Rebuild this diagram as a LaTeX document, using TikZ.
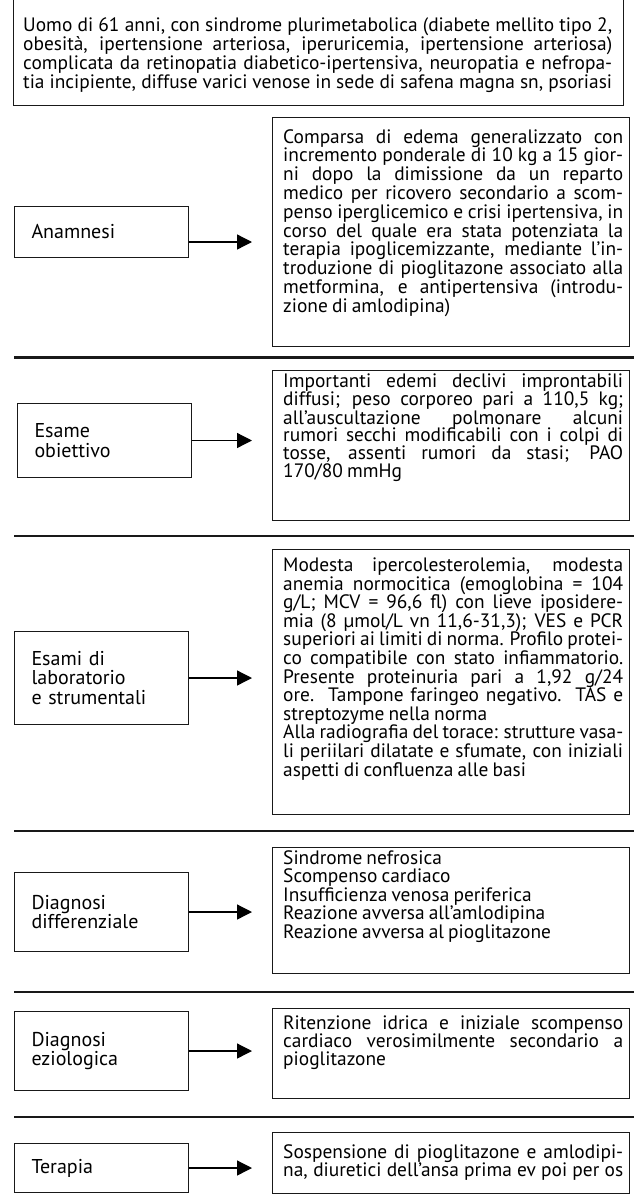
\documentclass[tikz,border=0pt]{standalone}
\usepackage{fontspec}
\setmainfont[WordSpace=0.8]{PT Sans}
\usepackage{graphicx}
\usetikzlibrary{arrows.meta}
\newcommand\Jw[2]{\sbox0{#2}\ifdim\wd0>#1\relax\resizebox{#1}{\height}{#2}\else\makebox[#1][s]{#2}\fi}
\newcommand\Lw[2]{\sbox0{#2}\ifdim\wd0>#1\relax\resizebox{#1}{\height}{#2}\else\makebox[#1][l]{#2}\fi}
\newcommand\J[1]{\Jw{340pt}{#1}}
\newcommand\Lr[1]{\Lw{340pt}{#1}}
\newcommand\JT[1]{\Jw{589pt}{#1}}
\newcommand\rtext[2]{\parbox[t]{340pt}{\fontsize{19.4}{#1}\selectfont #2}}
\begin{document}
\begin{tikzpicture}[x=1pt,y=-1pt,
  bx/.style={draw=black!90, line width=1pt, inner sep=0pt},
  lbox/.style={bx, anchor=north west, minimum width=174pt, text width=140pt, inner xsep=17pt, align=left, font=\fontsize{20}{19.8}\selectfont},
  rbox/.style={bx, anchor=north west, minimum width=357pt},
  txt/.style={anchor=base west, inner sep=0pt},
  sep/.style={line width=2.3pt, draw=black!90},
  arr/.style={line width=1.3pt, -{Triangle[length=15pt,width=15pt]}, shorten >=20pt}]
\useasboundingbox (0,0) rectangle (636,1194);
% top box
\node[rbox, minimum width=610pt, minimum height=108pt] (top) at (13,-3) {};
\node[txt] (toptext) at (23,31) {\parbox[t]{589pt}{\fontsize{19.4}{19.3}\selectfont
\JT{Uomo di 61 anni, con sindrome plurimetabolica (diabete mellito tipo 2,}\\
\JT{obesità, ipertensione arteriosa, iperuricemia, ipertensione arteriosa)}\\
\JT{complicata da retinopatia diabetico-ipertensiva, neuropatia e nefropa-}\\
\JT{tia incipiente, diffuse varici venose in sede di safena magna sn, psoriasi}}};
% separators
\coordinate (s1l) at (14,357.5); \coordinate (s1r) at (634,357.5);
\coordinate (s2l) at (14,536);   \coordinate (s2r) at (634,536);
\coordinate (s3l) at (14,831);   \coordinate (s3r) at (634,831);
\coordinate (s4l) at (14,992);   \coordinate (s4r) at (634,992);
\coordinate (s5l) at (14,1117);  \coordinate (s5r) at (634,1117);
\foreach \i in {1,...,5} \draw[sep] (s\i l) -- (s\i r);
% 1 Anamnesi
\node[lbox, minimum height=51pt] (l1) at (14,206) {Anamnesi};
\node[rbox, minimum height=229pt] (r1) at (272,117) {};
\node[txt] (t1) at (283,143) {\rtext{18.8}{%
\J{Comparsa di edema generalizzato con}\\
\J{incremento ponderale di 10 kg a 15 gior-}\\
\J{ni dopo la dimissione da un reparto}\\
\J{medico per ricovero secondario a scom-}\\
\J{penso iperglicemico e crisi ipertensiva, in}\\
\J{corso del quale era stata potenziata la}\\
\J{terapia ipoglicemizzante, mediante l’in-}\\
\J{troduzione di pioglitazone associato alla}\\
\J{metformina, e antipertensiva (introdu-}\\
\Lr{zione di amlodipina)}}};
\coordinate (a1) at (0,242);
\draw[arr] (l1.east |- a1) -- (r1.west |- a1);
% 2 Esame obiettivo
\node[lbox, minimum height=74pt] (l2) at (17,403) {Esame\\obiettivo};
\node[rbox, minimum height=150pt] (r2) at (272,370) {};
\node[txt] (t2) at (283,387.5) {\rtext{17.8}{%
\J{Importanti edemi declivi improntabili}\\
\J{diffusi; peso corporeo pari a 110,5 kg;}\\
\J{all’auscultazione polmonare alcuni}\\
\J{rumori secchi modificabili con i colpi di}\\
\J{tosse, assenti rumori da stasi; PAO}\\
\Lr{170/80 mmHg}}};
\draw[arr] (l2.east) -- (l2.east -| r2.west);
% 3 Esami di laboratorio
\node[lbox, minimum height=93pt] (l3) at (14,631) {Esami di\\laboratorio\\e strumentali};
\node[rbox, minimum height=265pt] (r3) at (272,549) {};
\node[txt] (t3) at (283,571.5) {\rtext{18.6}{%
\J{Modesta ipercolesterolemia, modesta}\\
\J{anemia normocitica (emoglobina = 104}\\
\J{g/L; MCV = 96,6 fl) con lieve iposidere-}\\
\J{mia (8 µmol/L vn 11,6-31,3); VES e PCR}\\
\J{superiori ai limiti di norma. Profilo protei-}\\
\J{co compatibile con stato infiammatorio.}\\
\J{Presente proteinuria pari a 1,92 g/24}\\
\J{ore. Tampone faringeo negativo. TAS e}\\
\Lr{streptozyme nella norma}\\
\J{Alla radiografia del torace: strutture vasa-}\\
\J{li periilari dilatate e sfumate, con iniziali}\\
\Lr{aspetti di confluenza alle basi}}};
\draw[arr] (l3.east) -- (l3.east -| r3.west);
% 4 Diagnosi differenziale
\node[lbox, minimum height=79pt] (l4) at (14,872) {Diagnosi\\differenziale};
\node[rbox, minimum height=126pt] (r4) at (272,847) {};
\node[txt] (t4) at (283,864.5) {\rtext{18.4}{%
\Lr{Sindrome nefrosica}\\
\Lr{Scompenso cardiaco}\\
\Lr{Insufficienza venosa periferica}\\
\Lr{Reazione avversa all’amlodipina}\\
\Lr{Reazione avversa al pioglitazone}}};
\draw[arr] (l4.east) -- (l4.east -| r4.west);
% 5 Diagnosi eziologica
\node[lbox, minimum height=79pt] (l5) at (14,1011) {Diagnosi\\eziologica};
\node[rbox, minimum height=90pt] (r5) at (272,1008) {};
\node[txt] (t5) at (283,1029) {\rtext{18.4}{%
\J{Ritenzione idrica e iniziale scompenso}\\
\J{cardiaco verosimilmente secondario a}\\
\Lr{pioglitazone}}};
\draw[arr] (l5.east) -- (l5.east -| r5.west);
% 6 Terapia
\node[lbox, minimum height=49pt] (l6) at (14,1143) {Terapia};
\node[rbox, minimum height=61pt] (r6) at (272,1132) {};
\node[txt] (t6) at (283,1158) {\rtext{18.8}{%
\J{Sospensione di pioglitazone e amlodipi-}\\
\J{na, diuretici dell’ansa prima ev poi per os}}};
\draw[arr] (l6.east) -- (l6.east -| r6.west);
\end{tikzpicture}
\end{document}
